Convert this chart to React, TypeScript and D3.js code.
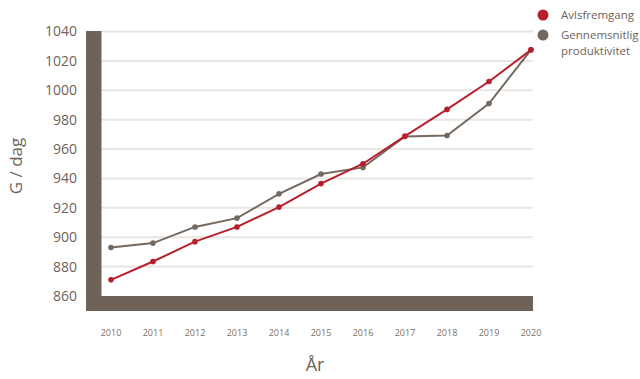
import React from "react";
import * as d3 from "d3";

const years = ["2010","2011","2012","2013","2014","2015","2016","2017","2018","2019","2020"];
const avlsfremgang = [871, 883.5, 897, 907, 920.5, 936.5, 950, 968.8, 987, 1006, 1027.5];
const produktivitet = [893, 896, 907, 913, 929.5, 943, 947.5, 968.5, 969.2, 991, 1027.5];
const yTicks = [860, 880, 900, 920, 940, 960, 980, 1000, 1020, 1040];

const W = 640, H = 379;
const FONT = "'Open Sans', 'Noto Sans', sans-serif";
const TEXT = "#6e6259";
const FRAME = "#6e6259";
const RED = "#b81f2d";
const GRAY = "#75695f";

export default function App() {
  const x = d3.scalePoint<string>().domain(years).range([111, 531]);
  const y = d3.scaleLinear().domain([860, 1040]).range([296, 31.5]);
  const line = d3.line<number>().x((_, i) => x(years[i])!).y(d => y(d));

  return (
    <svg width={W} height={H} style={{ position: "absolute", left: 0, top: 0, fontFamily: FONT }}>
      <rect width={W} height={H} fill="#fff" />
      {yTicks.slice(1).map(t => (
        <line key={t} x1={101} x2={533} y1={y(t)} y2={y(t)} stroke="#e9e5e1" strokeWidth={2} />
      ))}
      <rect x={86} y={31} width={15.5} height={280} fill={FRAME} />
      <rect x={86} y={296} width={447} height={15} fill={FRAME} />
      {yTicks.map(t => (
        <text key={t} x={77} y={y(t)} dy="0.35em" textAnchor="end" fontSize={14} fill={TEXT}>{t}</text>
      ))}
      {years.map(yr => (
        <text key={yr} x={x(yr)} y={336} textAnchor="middle" fontSize={9} fill="#7a6f66">{yr}</text>
      ))}
      <text x={315} y={371} textAnchor="middle" fontSize={18} fill={TEXT}>År</text>
      <text transform="translate(22,166) rotate(-90)" textAnchor="middle" fontSize={17} fill={TEXT}>G / dag</text>

      <path d={line(produktivitet)!} fill="none" stroke={GRAY} strokeWidth={2} />
      {produktivitet.map((v, i) => (
        <circle key={i} cx={x(years[i])} cy={y(v)} r={2.8} fill={GRAY} />
      ))}
      <path d={line(avlsfremgang)!} fill="none" stroke={RED} strokeWidth={2} />
      {avlsfremgang.map((v, i) => (
        <circle key={i} cx={x(years[i])} cy={y(v)} r={2.8} fill={RED} />
      ))}

      <circle cx={543} cy={15} r={5.5} fill={RED} />
      <text x={561} y={15} dy="0.35em" fontSize={11.5} fill={TEXT}>Avlsfremgang</text>
      <circle cx={543} cy={35} r={5.5} fill={GRAY} />
      <text x={561} y={35} dy="0.35em" fontSize={11.5} fill={TEXT}>Gennemsnitlig</text>
      <text x={561} y={51} dy="0.35em" fontSize={11.5} fill={TEXT}>produktivitet</text>
    </svg>
  );
}
